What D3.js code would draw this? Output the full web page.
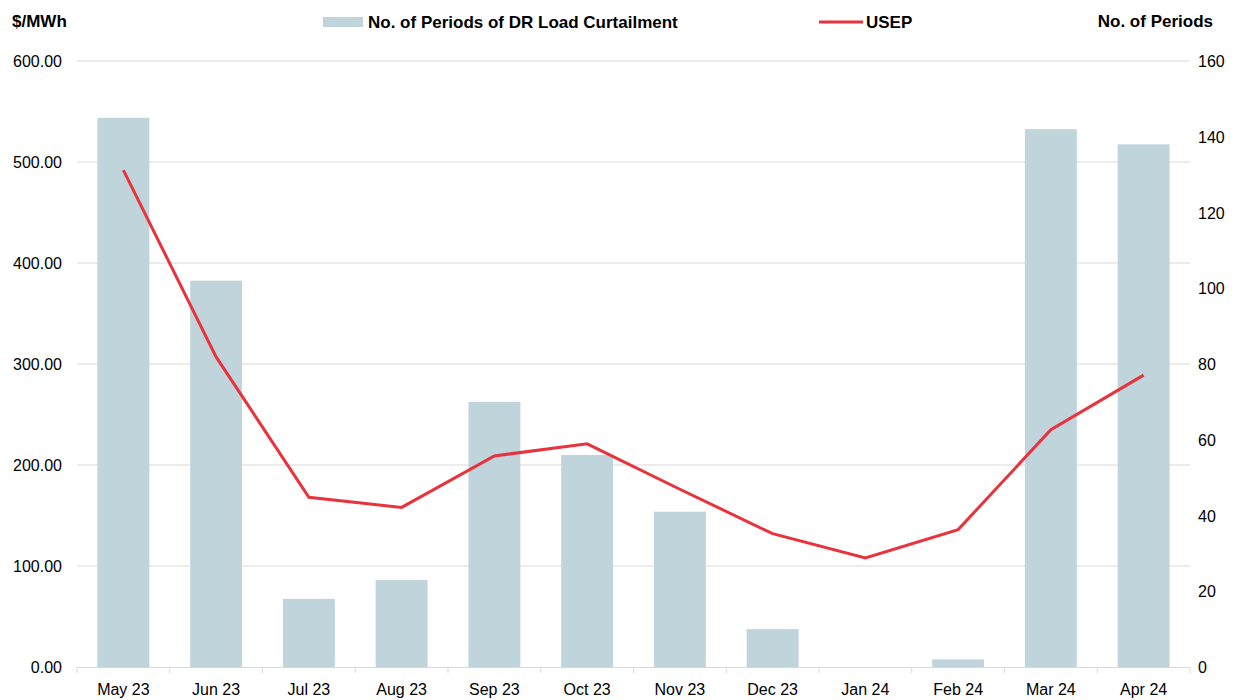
<!DOCTYPE html>
<html>
<head>
<meta charset="utf-8">
<script src="https://cdn.jsdelivr.net/npm/d3@7"></script>
<style>
  body { margin: 0; background: #fff; }
  text { font-family: "Liberation Sans", Arial, sans-serif; }
</style>
</head>
<body>
<div class="container"></div>
<script>
const months = ['May 23', 'Jun 23', 'Jul 23', 'Aug 23', 'Sep 23', 'Oct 23', 'Nov 23', 'Dec 23', 'Jan 24', 'Feb 24', 'Mar 24', 'Apr 24'];
const periods = [145, 102, 18, 23, 70, 56, 41, 10, 0, 2, 142, 138];
const usep = [492, 307, 168, 158, 209, 221, 176, 132, 108, 136, 235, 289];
const leftTicks = [0, 100, 200, 300, 400, 500, 600];
const rightTicks = [0, 20, 40, 60, 80, 100, 120, 140, 160];

const width = 1247;
const height = 700;
const plotLeft = 77, plotRight = 1190, plotTop = 61, plotBottom = 667;
const barColor = '#c0d4dc';
const lineColor = '#e8323c';
const gridColor = '#d9d9d9';

const svg = d3.select('.container')
    .append('svg')
    .attr('width', width)
    .attr('height', height);

const xScale = d3.scaleBand()
    .domain(months)
    .range([plotLeft, plotRight])
    .paddingInner(0.44)
    .paddingOuter(0.22);

const yLeft = d3.scaleLinear().domain([0, 600]).range([plotBottom, plotTop]);
const yRight = d3.scaleLinear().domain([0, 160]).range([plotBottom, plotTop]);

// grid lines
svg.append('g')
    .selectAll('line')
    .data(leftTicks.slice(1))
    .enter()
    .append('line')
    .attr('x1', plotLeft)
    .attr('x2', plotRight)
    .attr('y1', d => yLeft(d))
    .attr('y2', d => yLeft(d))
    .attr('stroke', gridColor)
    .attr('stroke-width', 1);

// bars
svg.append('g')
    .selectAll('rect')
    .data(periods)
    .enter()
    .append('rect')
    .attr('x', (d, i) => xScale(months[i]))
    .attr('y', d => yRight(d))
    .attr('width', xScale.bandwidth())
    .attr('height', d => plotBottom - yRight(d))
    .attr('fill', barColor);

// x axis line and category ticks
const step = xScale.step();
svg.append('line')
    .attr('x1', plotLeft).attr('x2', plotRight)
    .attr('y1', plotBottom + 0.5).attr('y2', plotBottom + 0.5)
    .attr('stroke', gridColor);

svg.append('g')
    .selectAll('line')
    .data(d3.range(months.length + 1))
    .enter()
    .append('line')
    .attr('x1', i => plotLeft + i * step)
    .attr('x2', i => plotLeft + i * step)
    .attr('y1', plotBottom)
    .attr('y2', plotBottom + 6)
    .attr('stroke', gridColor);

svg.append('g')
    .selectAll('text')
    .data(months)
    .enter()
    .append('text')
    .attr('x', d => xScale(d) + xScale.bandwidth() / 2)
    .attr('y', 695)
    .attr('text-anchor', 'middle')
    .attr('font-size', 16)
    .attr('fill', '#000')
    .text(d => d);

// USEP line
const line = d3.line()
    .x((d, i) => xScale(months[i]) + xScale.bandwidth() / 2)
    .y(d => yLeft(d));

svg.append('path')
    .datum(usep)
    .attr('d', line)
    .attr('fill', 'none')
    .attr('stroke', lineColor)
    .attr('stroke-width', 3);

// left axis labels
svg.append('g')
    .selectAll('text')
    .data(leftTicks)
    .enter()
    .append('text')
    .attr('x', 62)
    .attr('y', d => yLeft(d) + 6)
    .attr('text-anchor', 'end')
    .attr('font-size', 16)
    .text(d => d3.format('.2f')(d));

// right axis labels
svg.append('g')
    .selectAll('text')
    .data(rightTicks)
    .enter()
    .append('text')
    .attr('x', 1198)
    .attr('y', d => yRight(d) + 6)
    .attr('text-anchor', 'start')
    .attr('font-size', 16)
    .text(d => d);

// axis titles
svg.append('text')
    .attr('x', 12).attr('y', 27)
    .attr('font-size', 17).attr('font-weight', 'bold')
    .text('$/MWh');

svg.append('text')
    .attr('x', 1213).attr('y', 27)
    .attr('text-anchor', 'end')
    .attr('font-size', 17).attr('font-weight', 'bold')
    .text('No. of Periods');

// legend
svg.append('rect')
    .attr('x', 323).attr('y', 17)
    .attr('width', 40).attr('height', 10)
    .attr('fill', barColor);
svg.append('text')
    .attr('x', 368).attr('y', 28)
    .attr('font-size', 17).attr('font-weight', 'bold')
    .text('No. of Periods of DR Load Curtailment');

svg.append('line')
    .attr('x1', 819).attr('x2', 863)
    .attr('y1', 22).attr('y2', 22)
    .attr('stroke', lineColor)
    .attr('stroke-width', 3);
svg.append('text')
    .attr('x', 866).attr('y', 28)
    .attr('font-size', 17).attr('font-weight', 'bold')
    .text('USEP');
</script>
</body>
</html>
